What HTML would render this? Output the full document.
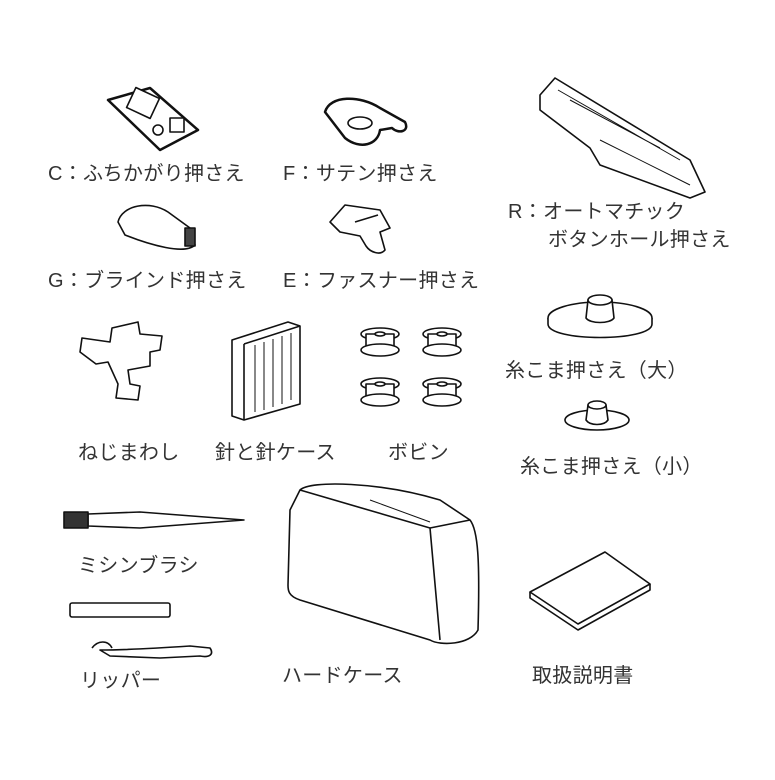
<!DOCTYPE html>
<html><head><meta charset="utf-8"><style>
html,body{margin:0;padding:0;background:#fff}
svg text{font-family:"Liberation Sans","Noto Sans CJK JP",sans-serif;font-size:20px;fill:#333;letter-spacing:0.3px}
</style></head><body>
<svg width="775" height="775" viewBox="0 0 775 775" xmlns="http://www.w3.org/2000/svg">
<g fill="#fff" stroke="#111" stroke-width="1.6" stroke-linejoin="round">
<path d="M108 100 L150 88 L198 130 L160 150 Z" stroke-width="2.5"/>
<rect x="130" y="92" width="26" height="22" transform="rotate(25 143 103)"/>
<circle cx="158" cy="130" r="5"/><rect x="170" y="118" width="14" height="14"/>
<path d="M325 112 C330 95 360 95 380 108 L405 122 C410 132 398 134 392 128 L380 130 C378 145 360 150 345 138 Z" stroke-width="2.5"/>
<ellipse cx="360" cy="123" rx="12" ry="6"/>
<path d="M118 222 C122 205 150 200 168 212 L190 228 L195 245 C185 255 150 245 125 235 Z"/>
<rect x="185" y="228" width="10" height="18" fill="#444"/>
<path d="M330 222 L345 205 L380 210 L390 228 L380 232 L385 250 C380 256 370 252 366 246 L360 236 L340 232 Z"/>
<line x1="355" y1="222" x2="378" y2="215"/>
<path d="M540 95 L555 78 L690 160 L705 192 L690 198 L600 165 L590 148 L540 110 Z"/>
<path d="M558 90 L680 160 M570 100 L660 148 M600 140 L690 185" fill="none" stroke-width="1"/>
<path d="M112 328 L138 322 L140 334 L162 336 L160 350 L150 352 L150 366 L128 370 L130 384 L140 386 L138 400 L116 398 L118 384 L108 362 L96 364 L80 352 L82 338 L110 342 Z"/>
<path d="M232 340 L288 322 L300 326 L300 404 L244 420 L232 416 Z"/>
<path d="M244 344 L300 326 M244 344 L244 420" fill="none"/>
<g stroke-width="1"><line x1="255" y1="345" x2="255" y2="412"/><line x1="264" y1="342" x2="264" y2="410"/><line x1="273" y1="339" x2="273" y2="407"/><line x1="282" y1="336" x2="282" y2="404"/><line x1="291" y1="333" x2="291" y2="400"/></g>
<g id="bob"><ellipse cx="380" cy="334" rx="19" ry="6"/><rect x="366" y="334" width="28" height="16"/><ellipse cx="380" cy="350" rx="19" ry="6"/><ellipse cx="380" cy="334" rx="5" ry="2"/></g>
<use href="#bob" x="62"/><use href="#bob" x="0" y="50"/><use href="#bob" x="62" y="50"/>
<ellipse cx="600" cy="318" rx="52" ry="16"/>
<path d="M548 318 L548 324 C548 342 652 342 652 324 L652 318" fill="#fff"/>
<path d="M588 300 L586 318 C590 324 610 324 614 318 L612 300 Z"/><ellipse cx="600" cy="300" rx="12" ry="5"/>
<ellipse cx="597" cy="420" rx="32" ry="10"/>
<path d="M588 405 L586 420 C590 426 604 426 608 420 L606 405 Z"/><ellipse cx="597" cy="405" rx="9" ry="4"/>
<path d="M88 514 L140 512 L244 520 L140 528 L88 526 Z"/>
<rect x="64" y="512" width="24" height="16" fill="#333"/>
<rect x="70" y="603" width="100" height="14" rx="2"/>
<path d="M100 650 C120 650 160 648 190 646 L210 648 C214 654 210 658 200 656 L160 658 L110 656 Z"/>
<path d="M92 648 C98 640 108 640 112 648" fill="none"/>
<path d="M300 490 C310 480 380 482 440 500 L470 520 C478 530 480 560 478 630 C470 645 440 646 430 640 L300 600 C288 596 288 590 288 585 L290 510 Z"/>
<path d="M430 528 L440 640 M300 490 L430 528 L470 520" fill="none"/>
<path d="M370 500 L430 522" fill="none" stroke-width="1"/>
<path d="M530 592 L605 552 L650 584 L578 624 Z"/>
<path d="M530 592 L530 598 L578 630 L650 590 L650 584" fill="none"/>
</g>
<text x="48" y="180">C：ふちかがり押さえ</text>
<text x="283" y="180">F：サテン押さえ</text>
<text x="508" y="218">R：オートマチック</text>
<text x="548" y="246">ボタンホール押さえ</text>
<text x="48" y="287">G：ブラインド押さえ</text>
<text x="283" y="287">E：ファスナー押さえ</text>
<text x="505" y="377">糸こま押さえ（大）</text>
<text x="520" y="473">糸こま押さえ（小）</text>
<text x="78" y="459">ねじまわし</text>
<text x="215" y="459">針と針ケース</text>
<text x="388" y="459">ボビン</text>
<text x="78" y="572">ミシンブラシ</text>
<text x="80" y="687">リッパー</text>
<text x="282" y="682">ハードケース</text>
<text x="532" y="682">取扱説明書</text>
</svg>
</body></html>
